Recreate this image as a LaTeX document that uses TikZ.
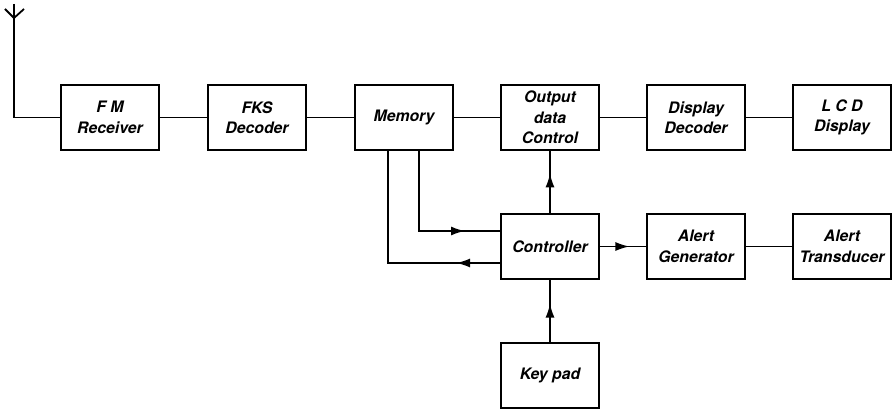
\documentclass[tikz,border=0pt]{standalone}
\usepackage{fontspec}
\setmainfont{TeX Gyre Heros}
\usetikzlibrary{arrows.meta,decorations.markings}
\begin{document}
\begin{tikzpicture}[x=1pt,y=-1pt,
  line width=1.8pt,
  blk/.style={draw,line width=1.9pt,minimum width=98pt,minimum height=65pt,inner sep=0pt,
    align=center,font=\fontsize{15.8}{20.5}\selectfont\bfseries\itshape},
  mytip/.tip={Latex[length=14pt,width=9pt]},
  arrat/.style={postaction={decorate},decoration={markings,mark=at position #1 with {\arrow{mytip}}}}]
\useasboundingbox (0,0) rectangle (892,409);
\node[blk] (fm)   at (110,117.5) {F M\\Receiver};
\node[blk] (fks)  at (257,117.5) {FKS\\Decoder};
\node[blk] (mem)  at (404,117.5) {Memory};
\node[blk] (out)  at (550,117.5) {Output\\data\\Control};
\node[blk] (dd)   at (696,117.5) {Display\\Decoder};
\node[blk] (lcd)  at (842,117.5) {L C D\\Display};
\node[blk] (ctl)  at (550,246.5) {Controller};
\node[blk] (ag)   at (696,246.5) {Alert\\Generator};
\node[blk] (tr)   at (842,246.5) {Alert\\Transducer};
\node[blk] (kp)   at (550,375.5) {Key pad};
% antenna
\coordinate (ant) at (14,4);
\coordinate (vtip) at (14,18);
\coordinate (vl) at (5,9);
\coordinate (vr) at (24,9);
\draw (ant) |- (fm.west);
\draw (vl) -- (vtip) -- (vr);
% top chain
\draw (fm) -- (fks);
\draw (fks) -- (mem);
\draw (mem) -- (out);
\draw (out) -- (dd);
\draw (dd) -- (lcd);
% controller links
\draw[arrat=0.64] (ctl) -- (out);
\draw[arrat=0.62] (kp) -- (ctl);
\draw[arrat=0.64] (ctl) -- (ag);
\draw (ag) -- (tr);
\coordinate (m1) at (419,150);
\coordinate (m2) at (388,150);
\draw[arrat={-35pt}] (m1) |- (ctl.west |- 0,231);
\draw (ctl.west |- 0,263) -| (m2);
\path[arrat=44pt] (ctl.west |- 0,263) -- (m2 |- 0,263);
\end{tikzpicture}
\end{document}
